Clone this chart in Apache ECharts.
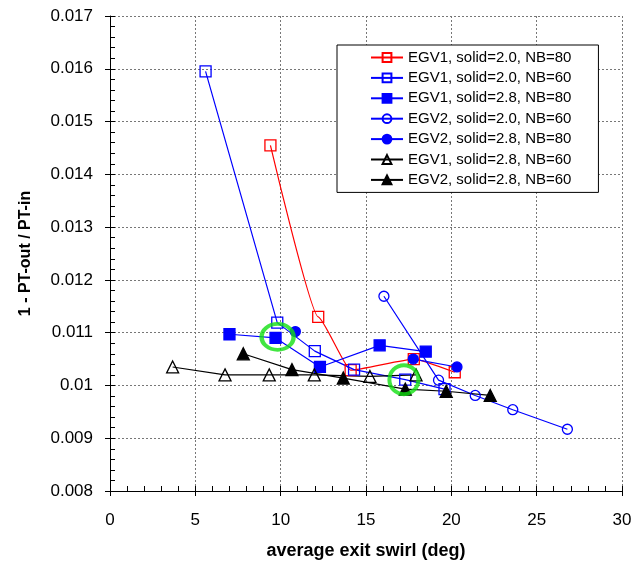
<!DOCTYPE html>
<html><head><meta charset="utf-8">
<script src="https://cdn.jsdelivr.net/npm/echarts@6/dist/echarts.min.js"></script>
<style>html,body{margin:0;padding:0;background:#fff}#c{width:644px;height:565px}</style>
</head><body><div id="c"></div>
<script>
// ---- data ----
const seriesNames = [
  'EGV1, solid=2.0, NB=80',
  'EGV1, solid=2.0, NB=60',
  'EGV1, solid=2.8, NB=80',
  'EGV2, solid=2.0, NB=60',
  'EGV2, solid=2.8, NB=80',
  'EGV1, solid=2.8, NB=60',
  'EGV2, solid=2.8, NB=60'
];
const egv1_s20_nb80 = [[9.4,0.01455],[12.2,0.0113],[14.1,0.01029],[17.8,0.0105],[20.2,0.01025]];
const egv1_s20_nb60 = [[5.6,0.01595],[9.8,0.01119],[12.0,0.01065],[14.3,0.0103],[17.3,0.01011],[19.6,0.00993]];
const egv1_s28_nb80 = [[7.0,0.01097],[9.7,0.0109],[12.3,0.01035],[15.8,0.01076],[18.5,0.01064]];
const egv2_s20_nb60 = [[16.05,0.01169],[19.25,0.0101],[21.4,0.00981],[23.6,0.00954],[26.8,0.00917]];
const egv2_s28_nb80 = [[10.86,0.01102],['-','-'],[17.77,0.0105],[20.33,0.01035]];
const egv1_s28_nb60 = [[3.67,0.01035],[6.74,0.0102],[9.33,0.0102],[11.97,0.0102],[15.23,0.01017],[17.93,0.0102]];
const egv2_s28_nb60 = [[7.81,0.0106],[10.66,0.0103],[13.67,0.01014],[17.3,0.00993],[19.7,0.00989],[22.28,0.00981]];
const highlightRings = [[9.82,0.01092],[17.22,0.01011]];
const xTicks = {min:0, max:30, interval:5};
const yTicks = {min:0.008, max:0.017, interval:0.001};
const xTitle = 'average exit swirl (deg)';
const yTitle = '1 - PT-out / PT-in';

const FONT = 'Liberation Sans, Arial, sans-serif';
function mk(name, data, color, symbol, size, filled, smooth){
  return {
    name: name, type: 'line', data: data, smooth: smooth || false, smoothMonotone: 'x',
    symbol: symbol, symbolSize: size, showSymbol: true, connectNulls: false,
    lineStyle: {color: color, width: 1.2},
    itemStyle: {color: filled ? color : 'rgba(255,255,255,0)', borderColor: color, borderWidth: 1.3},
    emphasis: {disabled: true}, animation: false
  };
}
const series = [
  mk(seriesNames[0], egv1_s20_nb80, '#ff0000', 'rect', 11, false, 0.15),
  mk(seriesNames[1], egv1_s20_nb60, '#0000ff', 'rect', 11, false),
  mk(seriesNames[2], egv1_s28_nb80, '#0000ff', 'rect', 11, true),
  mk(seriesNames[3], egv2_s20_nb60, '#0000ff', 'circle', 10, false),
  mk(seriesNames[4], egv2_s28_nb80, '#0000ff', 'circle', 10, true),
  mk(seriesNames[5], egv1_s28_nb60, '#000000', 'triangle', 12, false),
  mk(seriesNames[6], egv2_s28_nb60, '#000000', 'triangle', 12, true),
  {
    name: 'rings', type: 'scatter', data: highlightRings, z: 10,
    symbol: 'circle', symbolSize: function(v, p){ return p.dataIndex === 0 ? [32,26] : [29,29]; },
    itemStyle: {color: 'rgba(0,0,0,0)', borderColor: '#11e011', borderWidth: 4},
    emphasis: {disabled: true}, animation: false
  }
];

const baseAxis = (t) => ({
  type: 'value', min: t.min, max: t.max, interval: t.interval
});

const chart = echarts.init(document.getElementById('c'), null, {renderer: 'canvas'});
chart.setOption({
  animation: false,
  backgroundColor: '#fff',
  grid: {left: 110, right: 22, top: 16, bottom: 69, show: false},
  legend: {
    data: seriesNames, orient: 'vertical', left: 337, top: 45,
    itemWidth: 32, itemHeight: 11, itemGap: 5.4,
    padding: [5, 27, 5, 33],
    borderColor: '#000', borderWidth: 1, backgroundColor: '#fff',
    textStyle: {fontFamily: FONT, fontSize: 15, color: '#000'},
    selectedMode: false, z: 20
  },
  xAxis: [
    Object.assign(baseAxis(xTicks), {
      name: xTitle, nameLocation: 'middle', nameGap: 51,
      nameTextStyle: {fontFamily: FONT, fontSize: 18, fontWeight: 'bold', color: '#000'},
      axisLine: {show: true, lineStyle: {color: '#000', width: 1}},
      axisTick: {show: true, inside: true, length: 5, lineStyle: {color: '#000'}},
      minorTick: {show: true, splitNumber: 5, length: 5, lineStyle: {color: '#000'}},
      axisLabel: {fontFamily: FONT, fontSize: 17, color: '#000', margin: 21},
      splitLine: {show: true, lineStyle: {color: '#777', type: [2, 2], width: 1}}
    }),
    Object.assign(baseAxis(xTicks), {
      position: 'bottom', axisLine: {show: false},
      axisTick: {show: true, inside: false, length: 5, lineStyle: {color: '#000'}},
      axisLabel: {show: false}, splitLine: {show: false}
    })
  ],
  yAxis: [
    Object.assign(baseAxis(yTicks), {
      name: yTitle, nameLocation: 'middle', nameGap: 76, nameRotate: 90,
      nameTextStyle: {fontFamily: FONT, fontSize: 16, fontWeight: 'bold', color: '#000'},
      axisLine: {show: true, lineStyle: {color: '#000', width: 1}},
      axisTick: {show: true, inside: true, length: 5, lineStyle: {color: '#000'}},
      minorTick: {show: true, splitNumber: 5, length: 5, lineStyle: {color: '#000'}},
      axisLabel: {fontFamily: FONT, fontSize: 17, color: '#000', margin: 17},
      splitLine: {show: true, lineStyle: {color: '#777', type: [2, 2], width: 1}}
    }),
    Object.assign(baseAxis(yTicks), {
      position: 'left', axisLine: {show: false},
      axisTick: {show: true, inside: false, length: 5, lineStyle: {color: '#000'}},
      axisLabel: {show: false}, splitLine: {show: false}
    })
  ],
  series: series
});
</script>
</body></html>
